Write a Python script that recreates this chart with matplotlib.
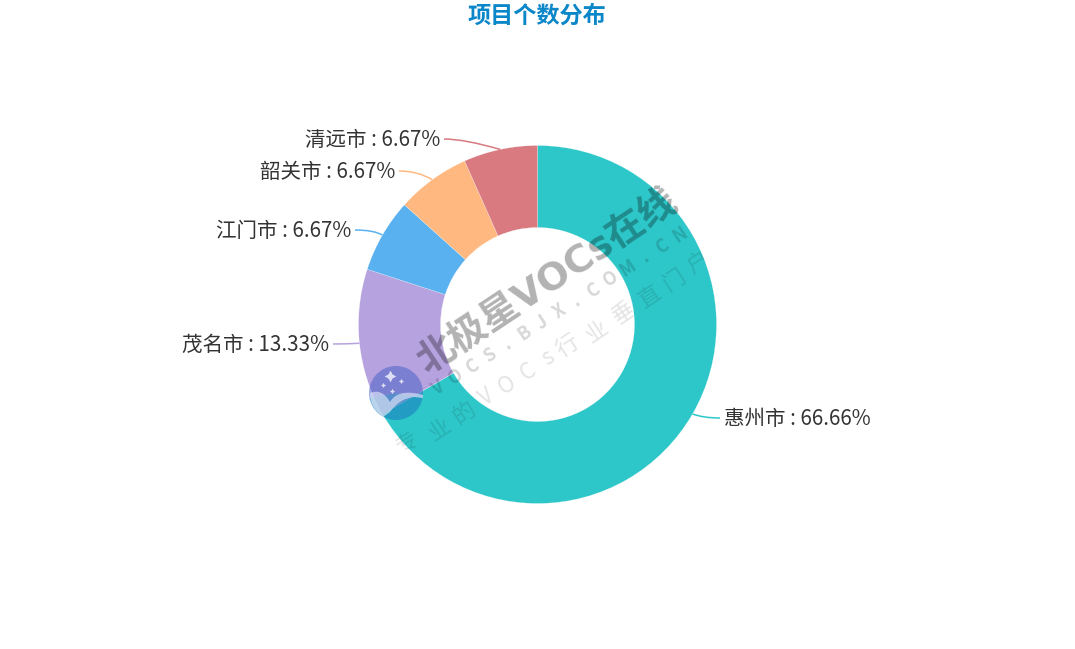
import matplotlib
matplotlib.use("Agg")
import numpy as np
import matplotlib.pyplot as plt
from matplotlib.patches import PathPatch, Wedge
from matplotlib.path import Path

plt.rcParams['font.family'] = ['Noto Sans CJK SC', 'DejaVu Sans']

W, H = 1075, 649

title = "项目个数分布"
cities = ["惠州市", "茂名市", "江门市", "韶关市", "清远市"]
shares = [66.66, 13.33, 6.67, 6.67, 6.67]
colors = ["#2ec7c9", "#b6a2de", "#5ab1ef", "#ffb980", "#d87a80"]

# leader line: elbow x, end x, label y (pixels from the top)
leaders = [(703, 720, 418), (345, 333, 344), (374, 355, 230), (418, 399, 171), (464, 444, 139)]

wm_main = "北极星VOCs在线"
wm_site = "VOCS.BJX.COM.CN"
wm_slogan = "专业的VOCs行业垂直门户"
# centres of the slogan characters
slogan_x = [408, 440, 463, 487, 507, 528, 548, 568, 597, 623, 650, 675, 698]
slogan_y = [443, 430, 413, 397, 385, 372, 358, 347, 332, 313, 297, 280, 263]

fig = plt.figure(figsize=(W / 100, H / 100), dpi=100)
ax = fig.add_axes([0, 0, 1, 1])


def yy(y):
    return H - y


cx, cy, R = 537.5, 324.5, 179
ax.pie(shares, colors=colors, startangle=90, counterclock=False, center=(cx, yy(cy)),
       radius=R, frame=True, wedgeprops=dict(width=82, edgecolor="white", linewidth=0.15))
ax.set_xlim(0, W)
ax.set_ylim(0, H)
ax.set_aspect("equal")
ax.axis("off")

ax.text(537, yy(16), title, color="#0b87c9", fontsize=16.7, fontweight="bold", ha="center", va="center")

# labels and curved leaders
start = 0
for city, share, col, (ex, tx, ly) in zip(cities, shares, colors, leaders):
    mid = np.radians(start + share / sum(shares) * 180)
    start += share / sum(shares) * 360
    px = cx + R * np.sin(mid)
    py = cy - R * np.cos(mid)
    verts = [(px, yy(py)), (ex, yy(ly)), (tx, yy(ly))]
    ax.add_patch(PathPatch(Path(verts, [Path.MOVETO, Path.CURVE3, Path.CURVE3]),
                           fill=False, edgecolor=col, linewidth=1.1, zorder=3))
    right = px > cx
    ax.text(tx + (4 if right else -4), yy(ly + 0.7), f"{city} : {share:.2f}%", color="#333333",
            fontsize=14.8, ha="left" if right else "right", va="center")

# watermark
ang = 33.5
ax.text(549, yy(283), wm_main, family=['DejaVu Sans', 'Noto Sans CJK SC'], color="black", alpha=0.3,
        fontsize=27.5, fontweight="bold", rotation=ang, rotation_mode="anchor",
        ha="center", va="center", zorder=5)
for ch, x, y in zip(wm_site, np.linspace(438, 680, len(wm_site)), np.linspace(388, 235, len(wm_site))):
    ax.text(x, yy(y), ch, color="black", alpha=0.16, fontsize=13, fontweight="bold", rotation=ang,
            rotation_mode="anchor", ha="center", va="center", zorder=5)
for ch, x, y in zip(wm_slogan, slogan_x, slogan_y):
    ax.text(x, yy(y), ch, color="black", alpha=0.11, fontsize=16, rotation=ang,
            rotation_mode="anchor", ha="center", va="center", zorder=5)

# watermark logo
lx, ly = 396, 393
ax.add_patch(Wedge((lx, yy(ly)), 27, -10, 190, facecolor="#4a63c8", alpha=0.55, edgecolor="none", zorder=5))
ax.add_patch(Wedge((lx, yy(ly)), 27, 190, 350, facecolor="#1a80c0", alpha=0.6, edgecolor="none", zorder=5))
wing = Path([(370, yy(393)), (382, yy(388)), (390, yy(402)),
             (398, yy(388)), (423, yy(395)),
             (423, yy(398)), (414, yy(397)),
             (400, yy(398)), (390, yy(412)),
             (386, yy(415)), (383, yy(417)),
             (370, yy(408)), (370, yy(393))],
            [Path.MOVETO, Path.CURVE3, Path.CURVE3, Path.CURVE3, Path.CURVE3, Path.LINETO, Path.LINETO,
             Path.CURVE3, Path.CURVE3, Path.CURVE3, Path.CURVE3, Path.CURVE3, Path.CURVE3])
ax.add_patch(PathPatch(wing, facecolor="#dfe6f7", alpha=0.65, edgecolor="none", zorder=6))
ax.scatter([390], [yy(376)], marker=(4, 1, 0), s=70, color="white", alpha=0.75, linewidths=0, zorder=6)
ax.scatter([383, 401, 392], [yy(385), yy(381), yy(391)], marker=(4, 1, 0), s=14, color="white", alpha=0.75,
           linewidths=0, zorder=6)

fig.savefig("out.png", dpi=100, facecolor="white")
